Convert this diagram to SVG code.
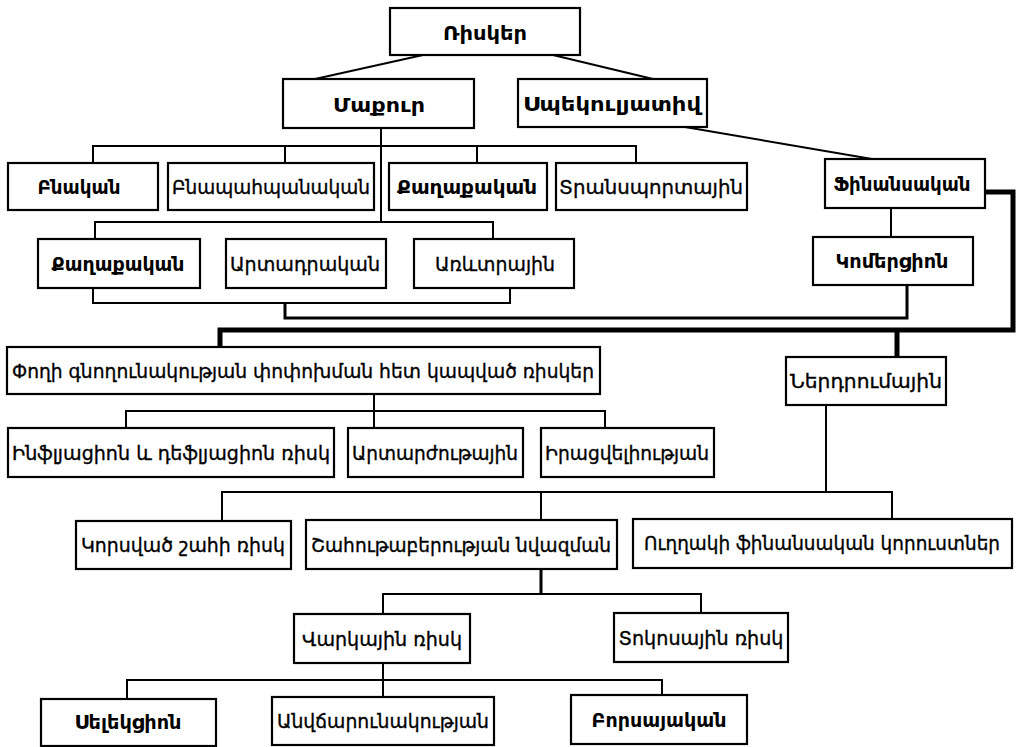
<svg xmlns="http://www.w3.org/2000/svg" width="1018" height="747" viewBox="0 0 1018 747">
<style>
.b{fill:#fff;stroke:#000;stroke-width:2.2}
.t{font-family:"DejaVu Sans","Noto Sans",sans-serif;font-size:20px;fill:#000;text-anchor:middle;stroke:#000;stroke-width:0.35}
.bd{font-weight:bold;stroke-width:0}
.c{fill:none;stroke:#000;stroke-width:2;stroke-linejoin:miter}
.m{fill:none;stroke:#000;stroke-width:3}
.k{fill:none;stroke:#000;stroke-width:5;stroke-linejoin:miter}
</style>
<rect width="1018" height="747" fill="#fff"/>
<g id="connectors">
<path class="c" d="M423,55 L315,79"/>
<path class="c" d="M553,55 L653,79"/>
<path class="c" d="M685,127 L872,159"/>
<path class="c" d="M93,163 V146 H636 V163 M285,146 V163 M477,146 V163"/>
<path class="c" d="M381,128 V222"/>
<path class="c" d="M95,239 V222 H493 V239"/>
<path class="c" d="M93,288 V303 H510 V288"/>
<path class="m" d="M285,303 V318 H907 V285"/>
<path class="c" d="M891,208 V237"/>
<path class="k" d="M985,192 H1013 V330 H220 V347"/>
<path class="k" d="M897,330 V357"/>
<path class="c" d="M374,394 V428 M126,428 V411 H605 V428"/>
<path class="c" d="M826,405 V492 M222,521 V492 H892 V519 M541,492 V520"/>
<path class="m" d="M541,569 V594"/>
<path class="c" d="M383,614 V594 H701 V613"/>
<path class="c" d="M383,663 V697 M127,699 V680 H662 V695"/>
</g>
<g id="n1"><rect class="b" x="390" y="8" width="190" height="47"/><text class="t bd" x="485" y="40" textLength="84" lengthAdjust="spacingAndGlyphs" font-size="22">Ռիսկեր</text></g>
<g id="n2"><rect class="b" x="283" y="79" width="191" height="49"/><text class="t bd" x="379" y="112" textLength="92" lengthAdjust="spacingAndGlyphs" font-size="22">Մաքուր</text></g>
<g id="n3"><rect class="b" x="518" y="79" width="189" height="48"/><text class="t bd" x="612" y="111" textLength="178" lengthAdjust="spacingAndGlyphs">Սպեկուլյատիվ</text></g>
<g id="n4"><rect class="b" x="8" y="163" width="150" height="47"/><text class="t bd" x="79" y="194" textLength="83" lengthAdjust="spacingAndGlyphs">Բնական</text></g>
<g id="n5"><rect class="b" x="168" y="163" width="206" height="47"/><text class="t" x="271" y="194" textLength="198" lengthAdjust="spacingAndGlyphs">Բնապահպանական</text></g>
<g id="n6"><rect class="b" x="389" y="163" width="158" height="47"/><text class="t bd" x="467" y="194" textLength="140" lengthAdjust="spacingAndGlyphs">Քաղաքական</text></g>
<g id="n7"><rect class="b" x="556" y="163" width="191" height="47"/><text class="t" x="651" y="194" textLength="184" lengthAdjust="spacingAndGlyphs">Տրանսպորտային</text></g>
<g id="n8"><rect class="b" x="825" y="159" width="160" height="49"/><text class="t bd" x="902" y="191" textLength="137" lengthAdjust="spacingAndGlyphs">Ֆինանսական</text></g>
<g id="n9"><rect class="b" x="38" y="239" width="162" height="49"/><text class="t bd" x="118" y="271" textLength="133" lengthAdjust="spacingAndGlyphs">Քաղաքական</text></g>
<g id="n10"><rect class="b" x="226" y="239" width="160" height="49"/><text class="t" x="305" y="271" textLength="150" lengthAdjust="spacingAndGlyphs">Արտադրական</text></g>
<g id="n11"><rect class="b" x="414" y="239" width="160" height="49"/><text class="t" x="495" y="271" textLength="120" lengthAdjust="spacingAndGlyphs">Առևտրային</text></g>
<g id="n12"><rect class="b" x="813" y="237" width="160" height="48"/><text class="t bd" x="892" y="268" textLength="113" lengthAdjust="spacingAndGlyphs">Կոմերցիոն</text></g>
<g id="n13"><rect class="b" x="7" y="347" width="593" height="47"/><text class="t" x="303" y="378" textLength="582" lengthAdjust="spacingAndGlyphs">Փողի գնողունակության փոփոխման հետ կապված ռիսկեր</text></g>
<g id="n14"><rect class="b" x="786" y="357" width="160" height="48"/><text class="t" x="866" y="388" textLength="152" lengthAdjust="spacingAndGlyphs">Ներդրումային</text></g>
<g id="n15"><rect class="b" x="8" y="428" width="326" height="49"/><text class="t" x="171" y="460" textLength="318" lengthAdjust="spacingAndGlyphs">Ինֆլյացիոն և դեֆլյացիոն ռիսկ</text></g>
<g id="n16"><rect class="b" x="348" y="428" width="175" height="49"/><text class="t" x="435" y="460" textLength="166" lengthAdjust="spacingAndGlyphs">Արտարժութային</text></g>
<g id="n17"><rect class="b" x="541" y="428" width="173" height="49"/><text class="t" x="627" y="460" textLength="164" lengthAdjust="spacingAndGlyphs">Իրացվելիության</text></g>
<g id="n18"><rect class="b" x="76" y="521" width="215" height="48"/><text class="t" x="183" y="552" textLength="204" lengthAdjust="spacingAndGlyphs">Կորսված շահի ռիսկ</text></g>
<g id="n19"><rect class="b" x="306" y="520" width="311" height="49"/><text class="t" x="461" y="552" textLength="300" lengthAdjust="spacingAndGlyphs">Շահութաբերության նվազման</text></g>
<g id="n20"><rect class="b" x="633" y="519" width="379" height="49"/><text class="t" x="822" y="550" textLength="356" lengthAdjust="spacingAndGlyphs" font-size="18">Ուղղակի ֆինանսական կորուստներ</text></g>
<g id="n21"><rect class="b" x="294" y="614" width="176" height="49"/><text class="t" x="382" y="646" textLength="160" lengthAdjust="spacingAndGlyphs">Վարկային ռիսկ</text></g>
<g id="n22"><rect class="b" x="614" y="613" width="174" height="49"/><text class="t" x="701" y="645" textLength="165" lengthAdjust="spacingAndGlyphs">Տոկոսային ռիսկ</text></g>
<g id="n23"><rect class="b" x="41" y="699" width="175" height="47"/><text class="t bd" x="128" y="729" textLength="107" lengthAdjust="spacingAndGlyphs">Սելեկցիոն</text></g>
<g id="n24"><rect class="b" x="272" y="697" width="222" height="48"/><text class="t" x="383" y="728" textLength="212" lengthAdjust="spacingAndGlyphs">Անվճարունակության</text></g>
<g id="n25"><rect class="b" x="571" y="695" width="176" height="49"/><text class="t bd" x="659" y="727" textLength="135" lengthAdjust="spacingAndGlyphs">Բորսայական</text></g>
</svg>
